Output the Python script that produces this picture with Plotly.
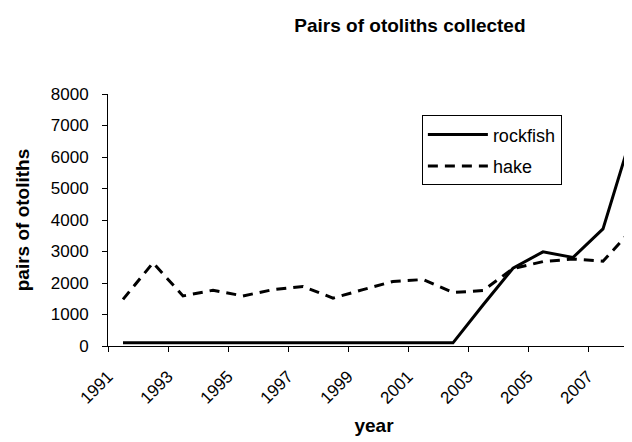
import plotly.graph_objects as go

years = [1991, 1992, 1993, 1994, 1995, 1996, 1997, 1998, 1999,
         2000, 2001, 2002, 2003, 2004, 2005, 2006, 2007, 2008]
rockfish = [100, 100, 100, 100, 100, 100, 100, 100, 100,
            100, 100, 100, 1300, 2470, 2990, 2810, 3720, 6830]
hake = [1480, 2640, 1590, 1770, 1590, 1790, 1890, 1520, 1790,
        2050, 2110, 1700, 1760, 2460, 2680, 2760, 2690, 3730]
tick_labels = ["1991", "1993", "1995", "1997", "1999", "2001", "2003", "2005", "2007"]
y_ticks = [0, 1000, 2000, 3000, 4000, 5000, 6000, 7000, 8000]

FONT = "Liberation Sans, Arial, sans-serif"

fig = go.Figure()
fig.add_trace(go.Scatter(x=years, y=rockfish, mode="lines", name="rockfish",
                         legendgroup="a",
                         line=dict(color="black", width=3)))
fig.add_trace(go.Scatter(x=years, y=hake, mode="lines", name="hake",
                         legendgroup="b",
                         line=dict(color="black", width=3, dash="10px,7px")))

# ticks sit on category boundaries (between categories)
tick_pos = [int(t) - 0.5 for t in tick_labels]

fig.update_layout(
    width=632, height=442,
    margin=dict(l=100, r=0, t=86, b=104),
    paper_bgcolor="white", plot_bgcolor="white",
    font=dict(family=FONT, color="black", size=17),
    title=dict(text="<b>Pairs of otoliths collected</b>", x=0.636, xanchor="center",
               y=0.96, yanchor="middle", font=dict(size=19, family=FONT, color="black")),
    legend=dict(x=0.59, y=0.915, xanchor="left", yanchor="top",
                bordercolor="black", borderwidth=1, bgcolor="white",
                font=dict(size=18, family=FONT), tracegroupgap=5, itemwidth=60),
    showlegend=True,
)
fig.update_xaxes(
    range=[years[0] - 0.5, years[0] - 0.5 + 532 / 30],
    tickvals=tick_pos, ticktext=tick_labels, tickangle=-45,
    ticks="outside", ticklen=5, tickcolor="black",
    showline=True, linecolor="black", linewidth=1,
    showgrid=False, zeroline=False,
    ticklabelstandoff=8,
    tickfont=dict(size=17, family=FONT),
    title=dict(text="<b>year</b>", font=dict(size=19, family=FONT), standoff=12),
)
fig.update_yaxes(
    range=[0, 8000], tickvals=y_ticks,
    ticks="outside", ticklen=5, tickcolor="black",
    showline=True, linecolor="black", linewidth=1,
    showgrid=False, zeroline=False,
    ticklabelstandoff=10,
    tickfont=dict(size=17, family=FONT),
    title=dict(text="<b>pairs of otoliths</b>", font=dict(size=19, family=FONT), standoff=16),
)

fig.write_html("out.html")
